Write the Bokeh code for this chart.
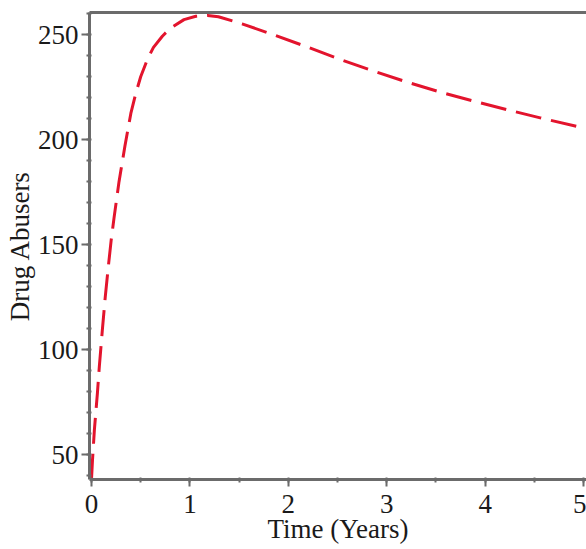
from bokeh.plotting import figure
from bokeh.models import SingleIntervalTicker, LinearAxis, Range1d
from bokeh.embed import file_html
from bokeh.resources import INLINE

# Data
time_years = [0, 0.01, 0.03, 0.06, 0.08, 0.11, 0.14, 0.17, 0.2, 0.23, 0.28, 0.34,
              0.4, 0.45, 0.5, 0.57, 0.63, 0.72, 0.8, 0.94, 1.06, 1.18, 1.29,
              1.53, 1.85, 2.19, 2.53, 2.87, 3.21, 3.55, 3.88, 4.22, 4.56, 5.0]
drug_abusers = [38, 47, 62, 79, 92, 109, 125, 139, 152, 163, 180, 197,
                212.5, 222, 230, 238.5, 244, 249.3, 253, 257.2, 258.8, 259.2, 258.6,
                255.2, 250, 244.2, 238.2, 232.6, 227.4, 222.6, 218.4, 214.3, 210.4, 205.6]

x_label = "Time (Years)"
y_label = "Drug Abusers"

FONT = "Liberation Serif"
AXIS_COLOR = "#6b6b6b"
TEXT_COLOR = "#1a1a1a"

p = figure(width=586, height=549, output_backend="svg", toolbar_location=None,
           x_range=Range1d(-0.02, 5.03), y_range=Range1d(38.1, 260.6),
           min_border_left=89, min_border_right=0, min_border_top=12,
           min_border_bottom=70, x_axis_label=x_label, y_axis_label=y_label)

p.outline_line_color = None
p.xgrid.grid_line_color = None
p.ygrid.grid_line_color = None
p.background_fill_color = "white"
p.border_fill_color = "white"

p.line(time_years, drug_abusers, line_color="#e3142d", line_width=3,
       line_dash="26 10", line_join="round")

p.xaxis.ticker = SingleIntervalTicker(interval=1, num_minor_ticks=2)
p.yaxis.ticker = SingleIntervalTicker(interval=50, num_minor_ticks=5)

for ax in (p.xaxis, p.yaxis):
    ax.axis_line_color = AXIS_COLOR
    ax.axis_line_width = 3
    ax.major_tick_line_color = AXIS_COLOR
    ax.major_tick_line_width = 2
    ax.minor_tick_line_color = AXIS_COLOR
    ax.minor_tick_line_width = 2
    ax.major_tick_in = 0
    ax.minor_tick_in = 2
    ax.minor_tick_out = 3
    ax.major_label_text_font = FONT
    ax.major_label_text_font_size = "27px"
    ax.major_label_text_color = TEXT_COLOR
    ax.axis_label_text_font = FONT
    ax.axis_label_text_font_size = "27px"
    ax.axis_label_text_font_style = "normal"
    ax.axis_label_text_color = TEXT_COLOR

p.xaxis.major_tick_out = 7
p.yaxis.major_tick_out = 8
p.xaxis.major_label_standoff = 8
p.xaxis.axis_label_standoff = -2
p.yaxis.major_label_standoff = 3
p.yaxis.axis_label_standoff = 0

top = LinearAxis(axis_line_color=AXIS_COLOR, axis_line_width=3,
                 major_tick_line_color=None, minor_tick_line_color=None,
                 major_label_text_font_size="0px", major_label_text_color=None)
p.add_layout(top, "above")

open("out.html", "w").write(file_html(p, INLINE))
